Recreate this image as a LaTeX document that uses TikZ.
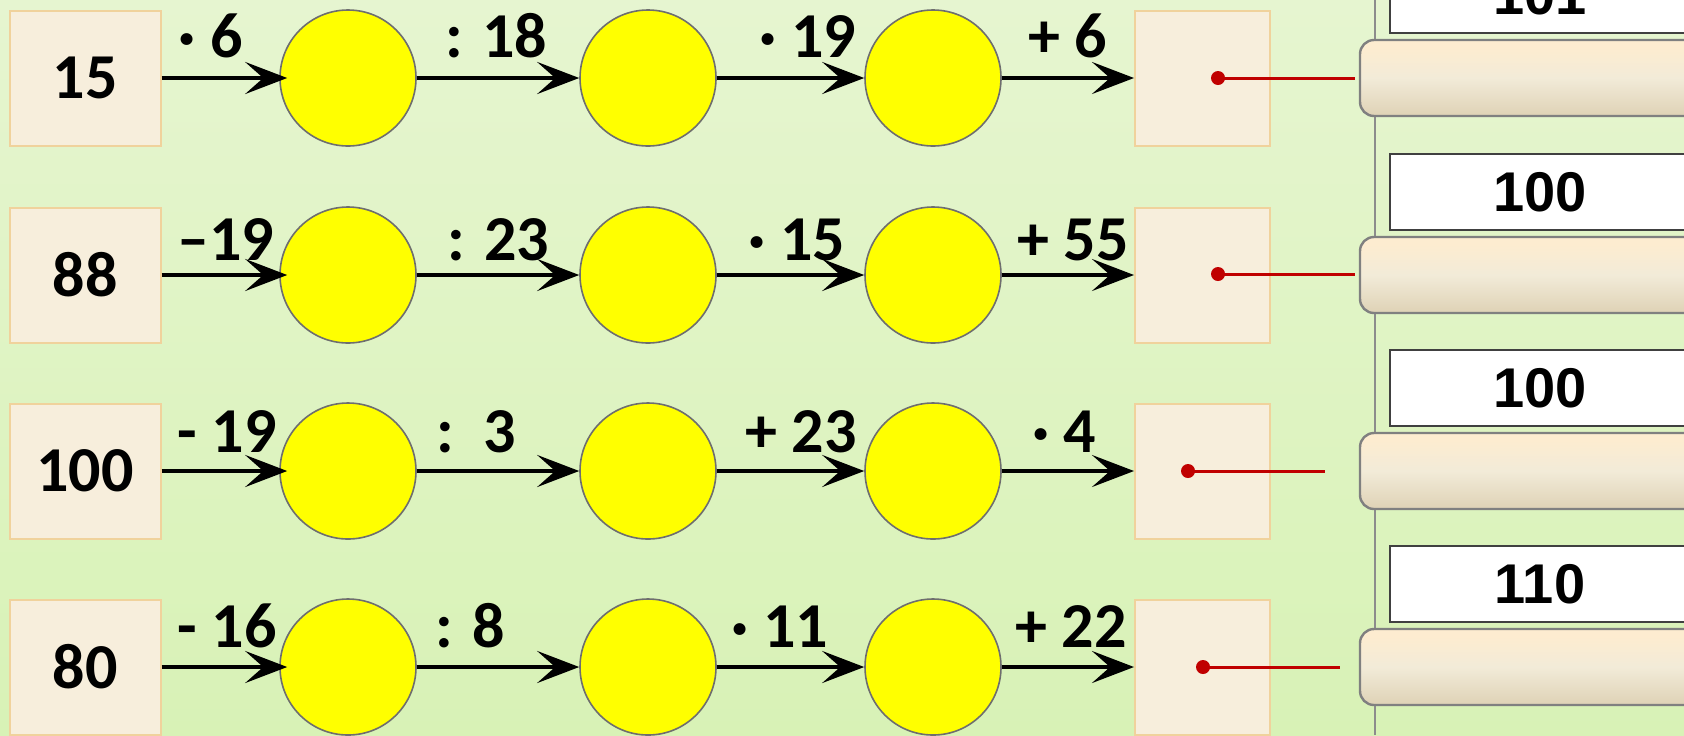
\documentclass[tikz,border=0pt]{standalone}
\usepackage{fontspec}
\setmainfont{Carlito}
\newfontfamily\arialfont{Liberation Sans}
\usepackage{xcolor}
\usetikzlibrary{arrows.meta,positioning}

\definecolor{bgtop}{RGB}{230,245,208}
\definecolor{bgbot}{RGB}{216,242,182}
\definecolor{boxfill}{RGB}{247,238,220}
\definecolor{boxline}{RGB}{240,210,156}
\definecolor{circline}{RGB}{110,110,110}
\definecolor{blobfill}{RGB}{255,255,0}
\definecolor{dotred}{RGB}{192,0,0}
\definecolor{bartop}{RGB}{253,236,208}
\definecolor{barmid}{RGB}{242,235,216}
\definecolor{barbot}{RGB}{213,197,164}
\pgfdeclareverticalshading{slotshade}{100bp}{color(0bp)=(barbot); color(12bp)=(barbot); color(50bp)=(barmid); color(70bp)=(bartop); color(100bp)=(bartop)}

\tikzset{
    numbox/.style={draw=boxline, line width=1pt, fill=boxfill, inner sep=0pt,
        minimum width=75.5pt, minimum height=67.5pt,
        font=\fontsize{32}{38}\selectfont\bfseries},
    ansbox/.style={numbox, minimum width=67.5pt},
    blob/.style={circle, draw=circline, line width=0.8pt, fill=blobfill,
        minimum size=68pt, inner sep=0pt},
    oplabel/.style={anchor=base, inner sep=0pt,
        font=\fontsize{32}{38}\selectfont\bfseries},
    flow/.style={line width=2pt, -{Stealth[length=21pt,width=16pt,inset=9pt]}},
    wire/.style={dotred, line width=1.5pt},
    valbox/.style={draw=black!75, line width=1.3pt, fill=white, inner sep=0pt,
        minimum width=150pt, minimum height=38pt,
        font=\arialfont\fontsize{28}{32}\selectfont\bfseries},
    slot/.style={draw=black!50, line width=1.2pt, rounded corners=7pt,
        shading=slotshade}
}

\begin{document}
\begin{tikzpicture}[x=0.5pt, y=-0.5pt]
    % Background
    \useasboundingbox (0,0) rectangle (1684,735);
    \clip (0,0) rectangle (1684,735);
    \shade[top color=bgtop, bottom color=bgbot] (0,0) rectangle (1684,735);

    % Chains
    \foreach \r/\y/\n in {1/78/15, 2/275/88, 3/471/100, 4/667/80} {
        \node[numbox] (start\r) at (85,\y) {\n};
        \node[blob] (a\r) at (348,\y) {};
        \node[blob] (b\r) at (648,\y) {};
        \node[blob] (c\r) at (933,\y) {};
        \node[ansbox] (end\r) at (1202.5,\y) {};
        \draw[flow, shorten >=-4pt] (start\r) -- (a\r);
        \draw[flow] (a\r) -- (b\r);
        \draw[flow] (b\r) -- (c\r);
        \draw[flow] (c\r) -- (end\r);
    }

    % Operation labels
    \node[oplabel] (op11) at (211,57) {· 6};
    \node[oplabel] (op12) at (496,57) {: 18};
    \node[oplabel] (op13) at (808,57) {· 19};
    \node[oplabel] (op14) at (1068,57) {+ 6};
    \node[oplabel] (op21) at (226,260) {–19};
    \node[oplabel] (op22) at (498,260) {: 23};
    \node[oplabel] (op23) at (797,260) {· 15};
    \node[oplabel] (op24) at (1073,260) {+ 55};
    \node[oplabel] (op31) at (227,452) {- 19};
    \node[oplabel] (op32) at (476,452) {:\ \ 3};
    \node[oplabel] (op33) at (801,452) {+ 23};
    \node[oplabel] (op34) at (1064,452) {· 4};
    \node[oplabel] (op41) at (227,647) {- 16};
    \node[oplabel] (op42) at (470,647) {: 8};
    \node[oplabel] (op43) at (780,647) {· 11};
    \node[oplabel] (op44) at (1071,647) {+ 22};

    % Answer panel
    \draw[black!45, line width=1.1pt] (1375,0) -- (1375,735);
    \foreach \r/\y/\v in {1/78/101, 2/275/100, 3/471/100, 4/667/110} {
        \node[valbox] (val\r) at (1540,\y-83) {\v};
        \draw[slot] (1360,\y-38) rectangle (1720,\y+38);
    }

    % Matching lines
    \foreach \r/\y/\dx/\ex in {1/78/1218/1355, 2/274/1218/1355, 3/471/1188/1325, 4/667/1203/1340} {
        \coordinate (dot\r) at (\dx,\y);
        \coordinate (tail\r) at (\ex,\y);
        \draw[wire] (dot\r) -- (tail\r);
        \fill[dotred] (dot\r) circle (3.5pt);
    }
\end{tikzpicture}
\end{document}
